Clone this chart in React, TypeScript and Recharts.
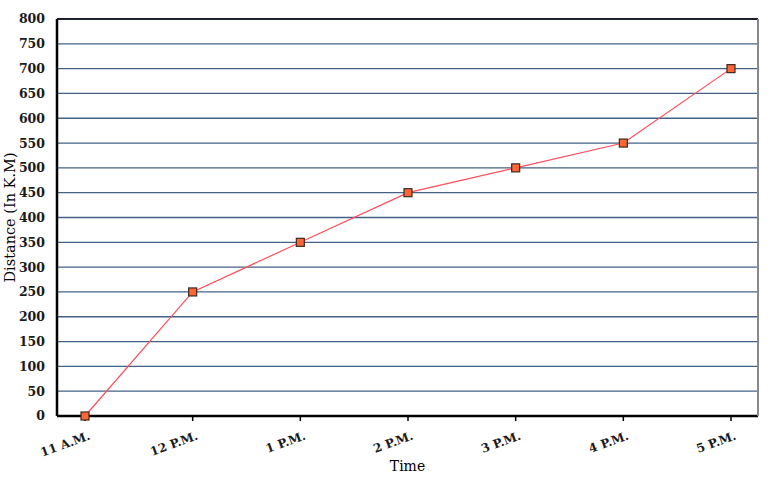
import { CartesianGrid, Line, LineChart, ReferenceLine, XAxis, YAxis } from 'recharts'

const times = ['11 A.M.', '12 P.M.', '1 P.M.', '2 P.M.', '3 P.M.', '4 P.M.', '5 P.M.']
const distances = [0, 250, 350, 450, 500, 550, 700]
const yTicks = [0, 50, 100, 150, 200, 250, 300, 350, 400, 450, 500, 550, 600, 650, 700, 750, 800]

const data = times.map((time, i) => ({ time, distance: distances[i] }))

const tickFont = { fontFamily: '"DejaVu Serif", serif', fontWeight: 700, fontSize: 12.5, fill: '#1a1a1a' }

function TimeTick({ x, y, payload }: any) {
  return (
    <text
      transform={`translate(${x + 6},${y + 16}) rotate(-20)`}
      textAnchor="end"
      {...tickFont}
      fontSize={12}
    >
      {payload.value}
    </text>
  )
}

function SquareDot({ cx, cy }: any) {
  if (cx == null || cy == null) return null
  return <rect x={cx - 4} y={cy - 4} width={8} height={8} fill="#ff6633" stroke="#3a2a20" strokeWidth={1.2} />
}

export default function App() {
  return (
    <div style={{ position: 'absolute', left: 0, top: 0, background: '#fff' }}>
      <LineChart
        width={770}
        height={480}
        data={data}
        margin={{ top: 19, right: 11, bottom: 0, left: 0 }}
      >
        <CartesianGrid vertical={false} stroke="#2f4f78" strokeWidth={1.3} strokeOpacity={0.9} />
        <XAxis
          dataKey="time"
          padding={{ left: 28, right: 27 }}
          height={64}
          tick={<TimeTick />}
          tickLine={{ stroke: '#000', strokeWidth: 1.5 }}
          tickSize={5}
          axisLine={{ stroke: '#000', strokeWidth: 2.5 }}
          interval={0}
          label={{
            value: 'Time',
            position: 'insideBottom',
            offset: 9,
            style: { fontFamily: '"DejaVu Serif", serif', fontSize: 14, fill: '#000' },
          }}
        />
        <YAxis
          domain={[0, 800]}
          ticks={yTicks}
          interval={0}
          width={57}
          tick={tickFont}
          tickLine={false}
          tickMargin={6}
          axisLine={{ stroke: '#000', strokeWidth: 2.5 }}
          label={{
            value: 'Distance (In K.M)',
            angle: -90,
            position: 'insideLeft',
            offset: 10,
            style: { textAnchor: 'middle', fontFamily: '"DejaVu Serif", serif', fontSize: 14.5, fill: '#000' },
          }}
        />
        <YAxis
          yAxisId="right"
          orientation="right"
          width={1}
          tick={false}
          tickLine={false}
          axisLine={{ stroke: '#888', strokeWidth: 2 }}
        />
        <ReferenceLine y={800} stroke="#000" strokeWidth={1.5} />
        <Line
          type="linear"
          dataKey="distance"
          stroke="#ff4d5a"
          strokeWidth={1.2}
          dot={<SquareDot />}
          activeDot={false}
          isAnimationActive={false}
        />
      </LineChart>
    </div>
  )
}
